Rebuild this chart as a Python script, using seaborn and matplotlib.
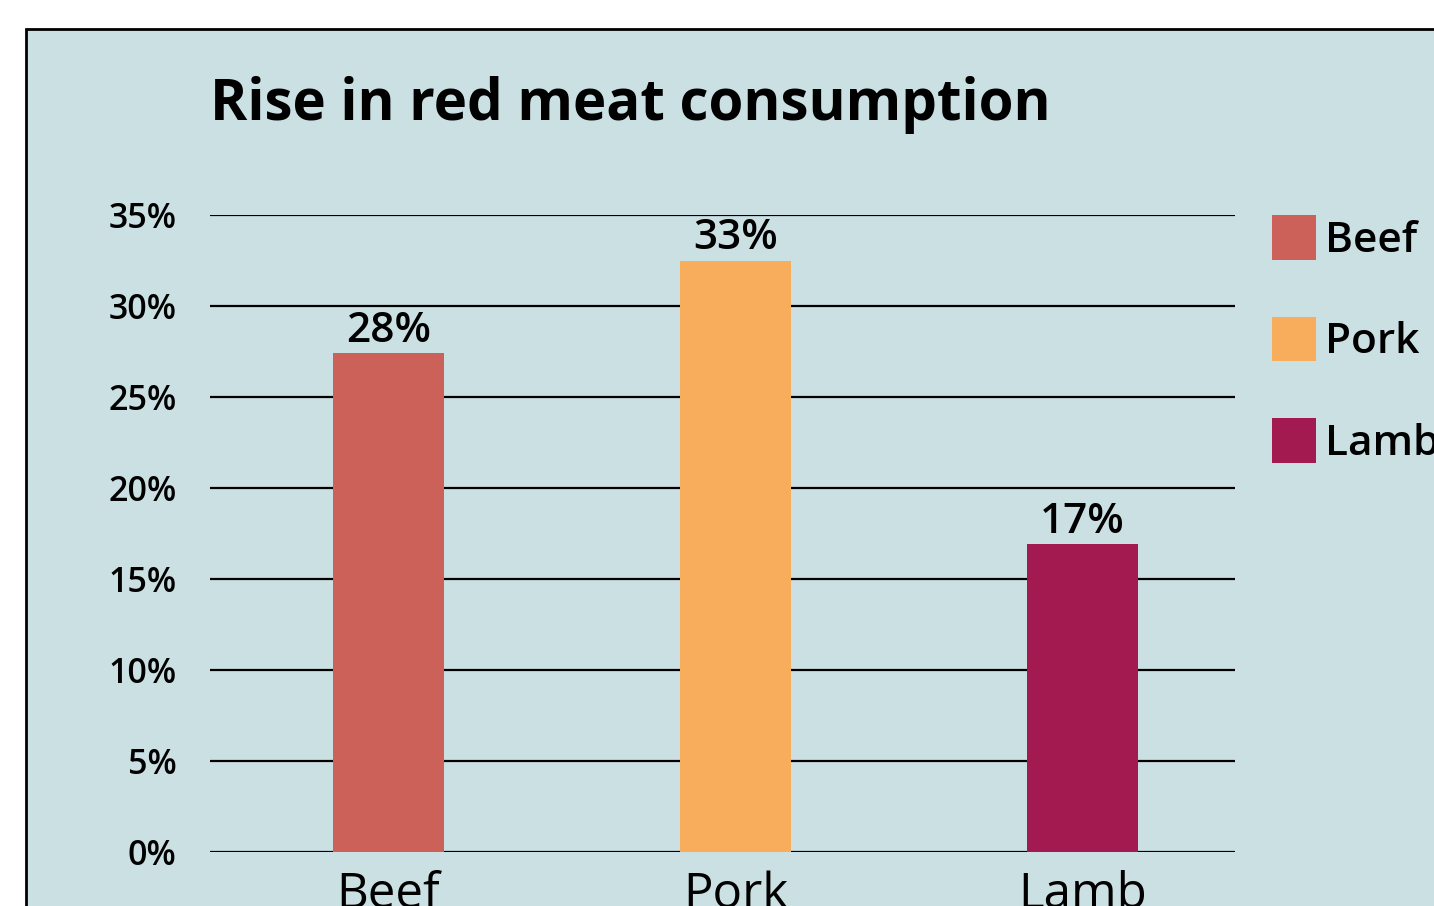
import pandas as pd
import seaborn as sns
import matplotlib.pyplot as plt
from matplotlib.patches import Patch, Rectangle

meats = ['Beef', 'Pork', 'Lamb']
rise_pct = [27.4, 32.5, 16.9]
value_labels = ['28%', '33%', '17%']
bar_colors = ['#CB6158', '#F8AD5C', '#A31A51']
y_ticks = [0, 5, 10, 15, 20, 25, 30, 35]

panel_bg = '#CBE0E3'

sns.set_theme(style='white')
plt.rcParams['font.family'] = ['Open Sans', 'DejaVu Sans']
plt.rcParams['text.color'] = 'black'

df = pd.DataFrame({'meat': meats, 'rise': rise_pct})

fig = plt.figure(figsize=(14.34, 9.06), dpi=100)
fig.patch.set_facecolor('white')

# the light blue panel runs off the right and bottom edges
fig.patches.append(Rectangle((26 / 1434, -0.1), 1.2, 0.968 + 0.1, transform=fig.transFigure,
                             facecolor=panel_bg, edgecolor='black', linewidth=2, zorder=-5))

ax = fig.add_axes([210 / 1434, 1 - 852 / 906, 1025 / 1434, 637 / 906])
ax.set_facecolor('none')

sns.barplot(data=df, x='meat', y='rise', hue='meat', palette=bar_colors,
            width=0.32, saturation=1, legend=False, ax=ax, zorder=3, linewidth=0)

ax.set_ylim(0, 35)
ax.set_xlim(-0.514, 2.44)
ax.set_yticks(y_ticks)
ax.set_yticklabels([f'{t}%' for t in y_ticks], fontweight='semibold')
ax.yaxis.grid(True, color='black', linewidth=1.6)
ax.set_axisbelow(True)
for s in ax.spines.values():
    s.set_visible(False)
ax.tick_params(axis='y', length=0, pad=24, labelsize=24.5, labelcolor='black')
ax.tick_params(axis='x', length=0, pad=13, labelsize=35.5, labelcolor='black')
ax.set_xlabel('')
ax.set_ylabel('')

for container, lab in zip(ax.containers, value_labels):
    ax.bar_label(container, labels=[lab], padding=1, fontsize=30.5, fontweight='semibold', color='black')

fig.text(210 / 1434, 1 - 120 / 906, 'Rise in red meat consumption', fontsize=40.7,
         fontweight='bold', color='black', va='baseline', ha='left')

handles = [Patch(facecolor=c, edgecolor='none', label=m) for m, c in zip(meats, bar_colors)]
leg = fig.legend(handles=handles, loc='upper left', bbox_to_anchor=(1272 / 1434, 1 - 215 / 906),
                 frameon=False, fontsize=30.5, handlelength=1.04, handleheight=1.24,
                 handletextpad=0.2, labelspacing=1.3, borderaxespad=0, borderpad=0,
                 labelcolor='black')
for t in leg.get_texts():
    t.set_fontweight('semibold')

fig.savefig('out.png', dpi=100, facecolor=fig.get_facecolor())
